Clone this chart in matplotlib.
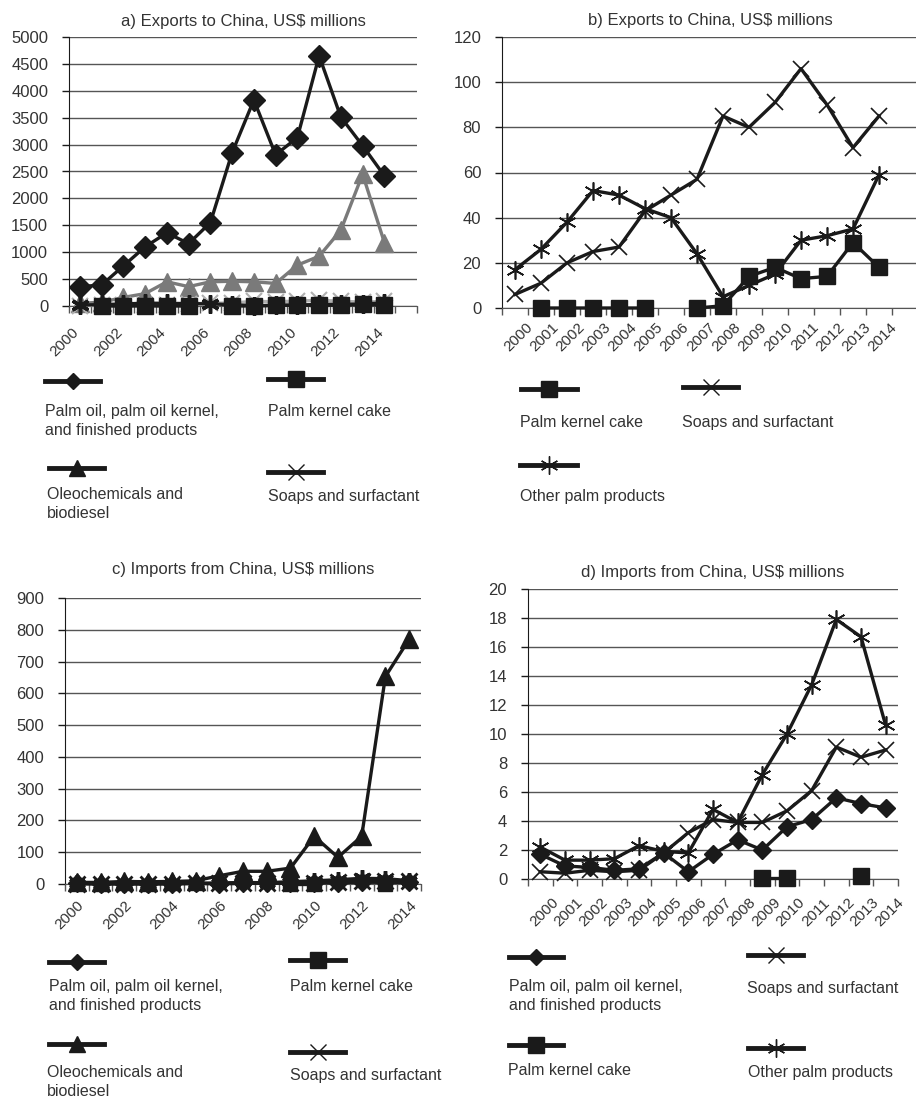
import numpy as np
import matplotlib
matplotlib.use("Agg")
import matplotlib.pyplot as plt
import matplotlib.transforms as mtrans
from matplotlib.lines import Line2D

plt.rcParams["font.family"] = ["Liberation Sans", "DejaVu Sans"]

nan = np.nan
years = np.arange(2000, 2015)

# a) exports to China, US$ millions
a_palm_oil = [360, 390, 745, 1100, 1360, 1160, 1550, 2850, 3830, 2810, 3130, 4650, 3510, 2980, 2420]
a_oleo = [50, 70, 160, 230, 450, 360, 450, 460, 450, 420, 760, 925, 1410, 2450, 1180]

# b) exports to China (small categories)
b_pkc = [nan, 0, 0, 0, 0, 0, nan, 0, 1, 14, 18, 13, 14, 29, 18]
b_soaps = [6, 11, 20, 25, 27, 43, 50, 57, 85, 80, 91, 106, 90, 71, 85]
b_other = [17, 26, 38, 52, 50, 44, 40, 24, 5, 10, 15, 30, 32, 35, 59]

# c) imports from China, oleochemicals
c_oleo = [5, 5, 8, 7, 8, 10, 26, 40, 40, 50, 150, 84, 150, 653, 770]

# d) imports from China (small categories)
d_palm_oil = [1.7, 0.9, 0.8, 0.6, 0.7, 1.8, 0.5, 1.7, 2.7, 2.0, 3.6, 4.1, 5.6, 5.2, 4.9]
d_soaps = [0.5, 0.4, 0.6, 0.5, 0.6, 1.8, 3.2, 4.1, 3.9, 3.9, 4.7, 6.1, 9.1, 8.4, 8.9]
d_other = [2.2, 1.3, 1.3, 1.4, 2.3, 1.9, 1.8, 4.8, 3.9, 7.2, 10.0, 13.4, 17.9, 16.7, 10.6]
d_pkc = [nan, nan, nan, nan, nan, nan, nan, nan, nan, 0.1, 0.1, nan, nan, 0.2, nan]

W, H = 916, 1103
TXT = "#333333"
INK = "#1a1a1a"

fig = plt.figure(figsize=(W / 100, H / 100), dpi=100)


def fx(x):
    return x / W


def fy(y):
    return 1 - y / H


def make_ax(x0, x1, ytop, ybot, ymax, ystep, xmax, title, every, shift, tpad, lpad):
    ax = fig.add_axes([fx(x0), fy(ybot), (x1 - x0) / W, (ybot - ytop) / H])
    ax.set_ylim(0, ymax)
    ax.set_xlim(1999.5, xmax)
    ax.set_yticks(np.arange(0, ymax + ystep / 2, ystep))
    ax.yaxis.grid(True, color="#555555", lw=1)
    ax.set_axisbelow(True)
    for s in ["top", "right"]:
        ax.spines[s].set_visible(False)
    ax.spines["left"].set_color(INK)
    ax.spines["bottom"].set_color("#555555")
    ax.tick_params(axis="y", direction="out", length=5, width=1, color=INK,
                   labelsize=12, labelcolor=TXT, pad=10)
    ax.set_xticks(np.arange(1999.5, xmax + 0.1, 1.0), minor=True)
    ax.tick_params(axis="x", which="minor", direction="out", length=5, width=1,
                   color="#555555")
    ax.tick_params(axis="x", which="major", length=0, pad=lpad)
    ax.set_xticks(years[::every])
    ax.set_xticklabels([str(y) for y in years[::every]], rotation=45, ha="right",
                       rotation_mode="anchor", fontsize=11, color=TXT)
    # shift labels sideways like the source layout
    off = mtrans.ScaledTranslation(shift / 100, 0, fig.dpi_scale_trans)
    for t in ax.get_xticklabels():
        t.set_transform(t.get_transform() + off)
    ax.set_title(title, fontsize=12, color=TXT, pad=tpad)
    return ax


def series(ax, y, marker, ms, color=INK, mew=1.0, lw=2.4, z=3):
    ax.plot(years, y, color=color, lw=lw, marker=marker, ms=ms, mfc=color,
            mec=color, mew=mew, zorder=z, clip_on=False)


def key(x0, x1, y, marker, ms, mew=1.0):
    fig.add_artist(Line2D([fx(x0), fx((x0 + x1) / 2), fx(x1)], [fy(y)] * 3,
                          transform=fig.transFigure, color=INK, lw=3.5,
                          marker=marker, ms=ms, mfc=INK, mec=INK, mew=mew,
                          markevery=[1]))


def label(x, y, s):
    fig.text(fx(x), fy(y), s, fontsize=11.5, color=TXT, ha="left", va="top",
             linespacing=1.3)


AST = (6, 2, 0)

# ---- a ----
ax = make_ax(69, 417, 37, 306, 5000, 500, 2015.5,
             "a) Exports to China, US$ millions", 2, -8, 8, 14)
series(ax, a_oleo, "^", 13, color="#7a7a7a", z=3)
series(ax, b_soaps, "x", 12, color="#b0b0b0", mew=1.5, z=3)
series(ax, a_palm_oil, "D", 11, z=4)
series(ax, b_other, AST, 13, mew=2.5, z=5)
series(ax, b_pkc, "s", 11, z=6)

# ---- b ----
ax = make_ax(502, 918, 37, 308, 120, 20, 2015.5,
             "b) Exports to China, US$ millions", 1, 11, 9, 8.5)
series(ax, b_soaps, "x", 12, mew=1.2)
series(ax, b_other, AST, 13, mew=1.2)
series(ax, b_pkc, "s", 12, z=5)

# ---- c ----
ax = make_ax(65, 421, 598, 884, 900, 100, 2014.5,
             "c) Imports from China, US$ millions", 2, 0, 17, 10)
series(ax, c_oleo, "^", 13)
series(ax, d_palm_oil, "D", 9)
series(ax, d_soaps, "x", 11, mew=2)
series(ax, d_other, AST, 12, mew=2.5)
series(ax, d_pkc, "s", 10)

# ---- d ----
ax = make_ax(528, 898, 589, 879, 20, 2, 2014.5,
             "d) Imports from China, US$ millions", 1, 11, 9, 12)
series(ax, d_palm_oil, "D", 9)
series(ax, d_soaps, "x", 12, mew=1.2)
series(ax, d_other, AST, 13, mew=1.2)
series(ax, d_pkc, "s", 11, z=5)

# ---- legends ----
key(45, 100, 381, "D", 8)
label(45, 404, "Palm oil, palm oil kernel,\nand finished products")
key(268, 323, 379, "s", 11)
label(268, 404, "Palm kernel cake")
key(49, 104, 468, "^", 12)
label(47, 487, "Oleochemicals and\nbiodiesel")
key(268, 323, 472, "x", 11)
label(268, 489, "Soaps and surfactant")

key(521, 577, 389, "s", 11)
label(520, 415, "Palm kernel cake")
key(683, 738, 387, "x", 11)
label(682, 415, "Soaps and surfactant")
key(520, 577, 465, AST, 13)
label(520, 489, "Other palm products")

key(49, 104, 962, "D", 8)
label(49, 979, "Palm oil, palm oil kernel,\nand finished products")
key(290, 345, 960, "s", 11)
label(290, 979, "Palm kernel cake")
key(49, 104, 1044, "^", 12)
label(47, 1065, "Oleochemicals and\nbiodiesel")
key(290, 345, 1052, "x", 11)
label(290, 1068, "Soaps and surfactant")

key(509, 563, 957, "D", 8)
label(509, 979, "Palm oil, palm oil kernel,\nand finished products")
key(748, 803, 955, "x", 11)
label(747, 981, "Soaps and surfactant")
key(509, 563, 1045, "s", 11)
label(508, 1063, "Palm kernel cake")
key(748, 803, 1048, AST, 13)
label(748, 1065, "Other palm products")

fig.savefig("out.png", dpi=100)
